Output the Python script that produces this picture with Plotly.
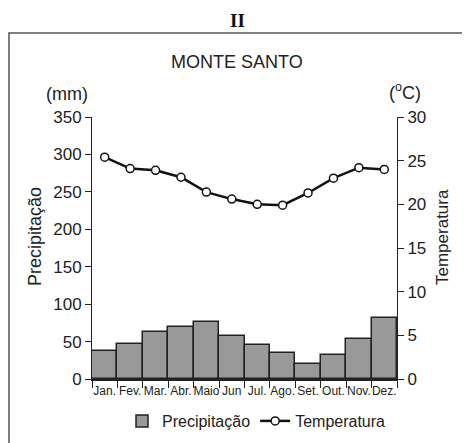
import plotly.graph_objects as go

months = ["Jan.", "Fev.", "Mar.", "Abr.", "Maio", "Jun", "Jul.", "Ago.", "Set.", "Out.", "Nov.", "Dez."]
precipitacao = [38, 47, 63, 70, 76, 58, 45, 35, 20, 32, 54, 82]
temperatura = [25.4, 24.1, 23.9, 23.1, 21.4, 20.6, 20.0, 19.9, 21.3, 23.0, 24.2, 24.0]
left_ticks = [0, 50, 100, 150, 200, 250, 300, 350]
right_ticks = [0, 5, 10, 15, 20, 25, 30]

# The page body has an 8px default margin; size the figure so it fills the window.
OFF = 8
W, H = 470 - OFF, 443 - OFF
# plot area in page pixels
L, R, T, B = 92, 397, 117, 379
FONT = "Liberation Sans, Arial, sans-serif"

def px(x):
    return (x - L) / (R - L)

def py(y):
    return (B - y) / (B - T)

fig = go.Figure()
fig.add_trace(go.Bar(
    x=months, y=precipitacao, name="Precipitação",
    marker=dict(color="#999999", line=dict(color="#222222", width=1.5)),
    yaxis="y",
))
fig.add_trace(go.Scatter(
    x=months, y=temperatura, name="Temperatura", mode="lines+markers",
    line=dict(color="#111111", width=2.5),
    marker=dict(symbol="circle", size=8, color="white", line=dict(color="#111111", width=1.5)),
    yaxis="y2",
))

fig.update_layout(
    width=W, height=H,
    margin=dict(l=L - OFF, r=W - (R - OFF), t=T - OFF, b=H - (B - OFF), autoexpand=False),
    paper_bgcolor="white", plot_bgcolor="white",
    font=dict(family=FONT, color="#222222", size=16),
    bargap=0,
    showlegend=True,
    legend=dict(orientation="h", x=px(122), y=py(421), xanchor="left", yanchor="middle",
                font=dict(size=16, color="#222222"), bgcolor="rgba(0,0,0,0)",
                itemwidth=30, tracegroupgap=0),
    xaxis=dict(type="category", range=[-0.5, len(months) - 0.5], showline=True,
               linecolor="#222222", linewidth=2,
               ticks="outside", tickson="boundaries", ticklen=7, tickcolor="#222222",
               tickwidth=1, tickangle=0, tickfont=dict(size=12, color="#222222"),
               showgrid=False, zeroline=False, automargin=False),
    yaxis=dict(range=[0, 350], tickvals=left_ticks, showline=True, linecolor="#222222",
               linewidth=1, ticks="outside", ticklen=6, tickcolor="#222222",
               tickfont=dict(size=17, color="#222222"), showgrid=False, zeroline=False,
               automargin=False),
    yaxis2=dict(range=[0, 30], tickvals=right_ticks, overlaying="y", side="right",
                showline=True, linecolor="#222222", linewidth=1, ticks="outside",
                ticklen=6, tickcolor="#222222", tickfont=dict(size=17, color="#222222"),
                showgrid=False, zeroline=False, automargin=False),
)

def label(text, x, y, size, angle=0, family=None, color="#222222"):
    f = dict(size=size, color=color)
    if family:
        f["family"] = family
    fig.add_annotation(text=text, xref="paper", yref="paper", x=px(x), y=py(y),
                       xanchor="center", yanchor="middle", showarrow=False,
                       textangle=angle, font=f)

label("<b>II</b>", 237, 20, 19, family="Liberation Serif, Times New Roman, serif", color="#111111")
label("MONTE SANTO", 237, 62, 18)
label("(mm)", 67, 94, 18)
label("(<sup>o</sup>C)", 405, 92, 18)
label("Precipitação", 35, 237, 18, angle=-90)
label("Temperatura", 442, 237, 17, angle=-90)

fig.add_shape(type="rect", xref="paper", yref="paper",
              x0=px(9), x1=px(490), y0=py(33), y1=py(470),
              line=dict(color="#555555", width=1.5), fillcolor="rgba(0,0,0,0)", layer="below")

fig.write_html("out.html")
